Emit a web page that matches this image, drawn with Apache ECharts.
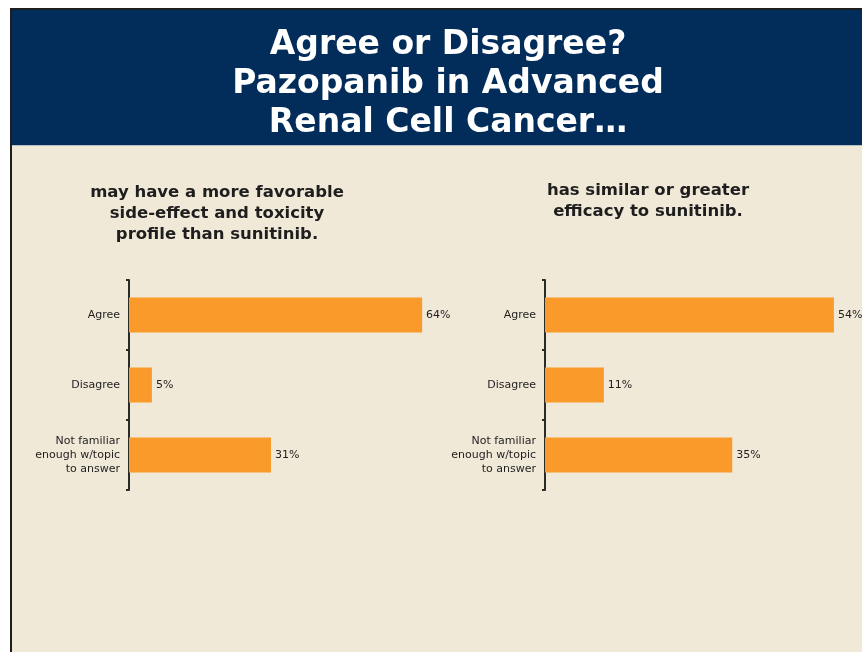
<!DOCTYPE html>
<html>
<head>
<meta charset="utf-8">
<script src="https://cdn.jsdelivr.net/npm/echarts@6/dist/echarts.min.js"></script>
<style>
  html, body { margin: 0; padding: 0; background: #ffffff; }
  #chart { width: 862px; height: 652px; }
</style>
</head>
<body>
<div id="chart"></div>
<script>
// Survey answers shared by both panels
const categories = ['Agree', 'Disagree', 'Not familiar\nenough w/topic\nto answer'];
// Panel 1: "may have a more favorable side-effect and toxicity profile than sunitinib."
const toxicityValues = [64, 5, 31];
// Panel 2: "has similar or greater efficacy to sunitinib."
const efficacyValues = [54, 11, 35];

const mainTitle = 'Agree or Disagree?\nPazopanib in Advanced\nRenal Cell Cancer…';
const leftSubtitle = 'may have a more favorable\nside-effect and toxicity\nprofile than sunitinib.';
const rightSubtitle = 'has similar or greater\nefficacy to sunitinib.';

const FONT = '"DejaVu Sans", Verdana, sans-serif';
const BAR = '#f99a2b';
const INK = '#1e1e1e';

const chart = echarts.init(document.getElementById('chart'));

function yAxisFor(gridIndex) {
  return {
    type: 'category',
    gridIndex: gridIndex,
    data: categories,
    inverse: true,
    axisLine: { show: true, lineStyle: { color: '#2a2a2a', width: 2 } },
    axisTick: { show: true, length: 3, lineStyle: { color: '#2a2a2a', width: 2 } },
    axisLabel: { color: INK, fontFamily: FONT, fontSize: 11, lineHeight: 14, margin: 9, align: 'right' },
    splitLine: { show: false }
  };
}

function xAxisFor(gridIndex, max) {
  return {
    type: 'value', gridIndex: gridIndex, min: 0, max: max,
    show: false, splitLine: { show: false }
  };
}

function seriesFor(idx, values) {
  return {
    type: 'bar',
    xAxisIndex: idx, yAxisIndex: idx,
    data: values,
    barWidth: '50%',
    itemStyle: { color: BAR },
    label: {
      show: true, position: 'right', distance: 4,
      formatter: p => p.value + '%',
      color: INK, fontFamily: FONT, fontSize: 11
    },
    silent: true
  };
}

chart.setOption({
  backgroundColor: '#ffffff',
  animation: false,
  graphic: [
    // page frame and panels
    { type: 'rect', shape: { x: 10, y: 8, width: 852, height: 644 }, style: { fill: '#1e1e1e' }, z: -10 },
    { type: 'rect', shape: { x: 12, y: 10, width: 850, height: 642 }, style: { fill: '#f1e9d8' }, z: -9 },
    { type: 'rect', shape: { x: 12, y: 10, width: 850, height: 135 }, style: { fill: '#022c5a' }, z: -8 },
    { type: 'rect', shape: { x: 12, y: 145, width: 850, height: 1 }, style: { fill: '#b7bfc4' }, z: -8 }
  ],
  title: [
    {
      text: mainTitle, left: 443, top: 21, textAlign: 'center',
      textStyle: { color: '#ffffff', fontFamily: FONT, fontWeight: 'bold', fontSize: 33, lineHeight: 39 }
    },
    {
      text: leftSubtitle, left: 212, top: 177, textAlign: 'center',
      textStyle: { color: INK, fontFamily: FONT, fontWeight: 'bold', fontSize: 16.5, lineHeight: 21 }
    },
    {
      text: rightSubtitle, left: 643, top: 175, textAlign: 'center',
      textStyle: { color: INK, fontFamily: FONT, fontWeight: 'bold', fontSize: 16.5, lineHeight: 21 }
    }
  ],
  grid: [
    { left: 129, top: 280, width: 320.6, height: 210 },
    { left: 545, top: 280, width: 299.6, height: 210 }
  ],
  xAxis: [xAxisFor(0, 70), xAxisFor(1, 56)],
  yAxis: [yAxisFor(0), yAxisFor(1)],
  series: [seriesFor(0, toxicityValues), seriesFor(1, efficacyValues)]
});
</script>
</body>
</html>
